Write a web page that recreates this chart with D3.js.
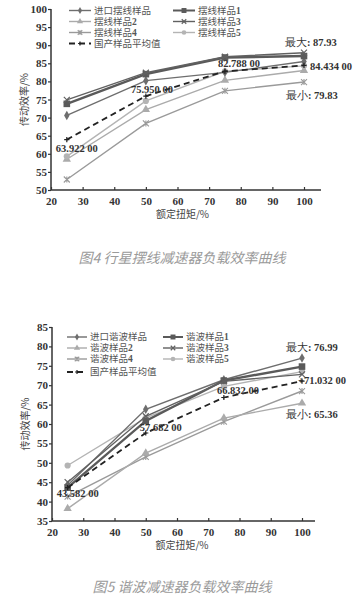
<!DOCTYPE html>
<html><head><meta charset="utf-8">
<script src="https://cdn.jsdelivr.net/npm/d3@7/dist/d3.min.js"></script>
<style>
html,body{margin:0;padding:0;background:#fff;}
svg{display:block;}
</style></head>
<body>
<svg id="chart" width="362" height="599"></svg>
<script>
// ---------- data ----------
const torque = [25, 50, 75, 100];
const xTicks = [20, 30, 40, 50, 60, 70, 80, 90, 100];

// Figure 4: cycloid reducers
const cyNames = ["进口摆线样品", "摆线样品1", "摆线样品2", "摆线样品3", "摆线样品4", "摆线样品5", "国产样品平均值"];
const cyImport = [70.6, 80.2, 82.5, 85.5];
const cyS1 = [73.8, 82.0, 86.6, 87.0];
const cyS2 = [58.5, 72.2, 80.3, 83.0];
const cyS3 = [74.9, 82.4, 86.8, 87.93];
const cyS4 = [52.9, 68.4, 77.4, 79.83];
const cyS5 = [59.3, 74.6, 82.8, 84.3];
const cyAvg = [63.922, 75.95, 82.788, 84.434];
const cyYTicks = [50, 55, 60, 65, 70, 75, 80, 85, 90, 95, 100];
const cyAvgLabels = ["63.922 00", "75.950 00", "82.788 00", "84.434 00"];
const cyMaxLabel = "最大: 87.93";
const cyMinLabel = "最小: 79.83";
const cyCaption = "图4 行星摆线减速器负载效率曲线";

// Figure 5: harmonic reducers
const hwNames = ["进口谐波样品", "谐波样品1", "谐波样品2", "谐波样品3", "谐波样品4", "谐波样品5", "国产样品平均值"];
const hwImport = [44.2, 63.8, 71.4, 76.99];
const hwS1 = [43.6, 60.8, 71.2, 74.8];
const hwS2 = [38.2, 52.5, 61.5, 65.36];
const hwS3 = [45.0, 62.0, 71.0, 72.8];
const hwS4 = [41.3, 51.5, 60.6, 68.5];
const hwS5 = [49.3, 61.6, 69.7, 73.5];
const hwAvg = [43.582, 57.682, 66.832, 71.032];
const hwYTicks = [35, 40, 45, 50, 55, 60, 65, 70, 75, 80, 85];
const hwAvgLabels = ["43.582 00", "57.682 00", "66.832 00", "+71.032 00"];
const hwMaxLabel = "最大: 76.99";
const hwMinLabel = "最小: 65.36";
const hwCaption = "图5 谐波减速器负载效率曲线";

const xTitle = "额定扭矩/%";
const yTitle = "传动效率/%";

// ---------- styles ----------
const styles = [
  {color: "#6e6e6e", width: 1.4, marker: "diamond", dash: null},
  {color: "#5a5a5a", width: 2.4, marker: "square", dash: null},
  {color: "#ababab", width: 1.4, marker: "triangle", dash: null},
  {color: "#616161", width: 1.4, marker: "cross", dash: null},
  {color: "#9a9a9a", width: 1.4, marker: "asterisk", dash: null},
  {color: "#b4b4b4", width: 1.4, marker: "circle", dash: null},
  {color: "#222222", width: 1.8, marker: "plus", dash: "6,4"}
];

const svg = d3.select("#chart");
svg.append("rect").attr("width", 362).attr("height", 599).attr("fill", "#fff");

const numFont = "'Liberation Serif','DejaVu Serif',serif";
const cjkFont = "'Noto Sans CJK SC','Noto Sans',sans-serif";
const legFont = "'Liberation Serif','Noto Sans CJK SC',serif";

function drawMarker(g, type, x, y, color, k) {
  const f = k || 1;
  const s = 3 * f;
  if (type === "diamond") {
    g.append("path").attr("d", d3.symbol(d3.symbolDiamond, 26 * f * f)()).attr("transform", `translate(${x},${y})`).attr("fill", color);
  } else if (type === "square") {
    g.append("rect").attr("x", x - 3.3 * f).attr("y", y - 3.3 * f).attr("width", 6.6 * f).attr("height", 6.6 * f).attr("fill", color);
  } else if (type === "triangle") {
    g.append("path").attr("d", d3.symbol(d3.symbolTriangle, 30 * f * f)()).attr("transform", `translate(${x},${y})`).attr("fill", color);
  } else if (type === "circle") {
    g.append("circle").attr("cx", x).attr("cy", y).attr("r", 3.1 * f).attr("fill", color);
  } else if (type === "cross") {
    g.append("path").attr("d", `M${x - s},${y - s}L${x + s},${y + s}M${x - s},${y + s}L${x + s},${y - s}`).attr("stroke", color).attr("stroke-width", 1.2);
  } else if (type === "asterisk") {
    g.append("path").attr("d", `M${x - s},${y - s}L${x + s},${y + s}M${x - s},${y + s}L${x + s},${y - s}M${x},${y - s}L${x},${y + s}`).attr("stroke", color).attr("stroke-width", 1.1);
  } else if (type === "plus") {
    g.append("path").attr("d", `M${x - 2.6 * f},${y}L${x + 2.6 * f},${y}M${x},${y - 2.6 * f}L${x},${y + 2.6 * f}`).attr("stroke", color).attr("stroke-width", 1.2);
  }
}

function drawChart(cfg) {
  const g = svg.append("g");
  const x = d3.scaleLinear().domain([20, 100]).range([cfg.x0, cfg.x1]);
  const y = d3.scaleLinear().domain(cfg.yDomain).range([cfg.yBottom, cfg.yTop]);

  // axes
  const yAxis = d3.axisLeft(y).tickValues(cfg.yTicks).tickSize(3).tickSizeOuter(0);
  const ya = g.append("g").attr("transform", `translate(${cfg.x0},0)`).call(yAxis);
  const xAxis = d3.axisBottom(x).tickValues(xTicks).tickSize(3).tickSizeOuter(0);
  const xa = g.append("g").attr("transform", `translate(0,${cfg.yBottom})`).call(xAxis);
  [ya, xa].forEach(a => {
    a.select(".domain").remove();
    a.selectAll(".tick line").attr("stroke", "#333").attr("stroke-width", 1.2);
    a.selectAll(".tick text").attr("font-family", numFont).attr("font-weight", "bold")
      .attr("font-size", "11px").attr("fill", "#333");
  });
  xa.selectAll(".tick line").attr("y2", -3);
  xa.selectAll(".tick text").attr("dy", "0.9em").attr("y", 5);
  ya.selectAll(".tick text").attr("x", -4);
  g.append("line").attr("x1", cfg.x0).attr("x2", cfg.x0).attr("y1", cfg.yTop).attr("y2", cfg.yBottom)
    .attr("stroke", "#333").attr("stroke-width", 1.5);
  g.append("line").attr("x1", cfg.x0).attr("x2", cfg.xEnd).attr("y1", cfg.yBottom).attr("y2", cfg.yBottom)
    .attr("stroke", "#333").attr("stroke-width", 1.5);

  // titles
  g.append("text").attr("x", (cfg.x0 + cfg.x1) / 2 + 5).attr("y", cfg.yBottom + 28)
    .attr("text-anchor", "middle").attr("font-family", cjkFont).attr("font-size", "10px").attr("fill", "#444").text(xTitle);
  g.append("text").attr("transform", `translate(${cfg.x0 - 23},${(cfg.yTop + cfg.yBottom) / 2}) rotate(-90)`)
    .attr("text-anchor", "middle").attr("font-family", cjkFont).attr("font-size", "10px").attr("fill", "#444").text(yTitle);

  // series lines
  const line = d3.line().x((d, i) => x(torque[i])).y(d => y(d));
  const order = [4, 2, 5, 0, 1, 3, 6];
  order.forEach(k => {
    const st = styles[k];
    g.append("path").datum(cfg.series[k]).attr("d", line).attr("fill", "none")
      .attr("stroke", st.color).attr("stroke-width", st.width)
      .attr("stroke-dasharray", st.dash);
    cfg.series[k].forEach((v, i) => drawMarker(g, st.marker, x(torque[i]), y(v), st.color));
  });

  // legend
  cfg.names.forEach((nm, k) => {
    const col = k === 6 ? 0 : k % 2;
    const row = k === 6 ? 3 : Math.floor(k / 2);
    const lx = cfg.legCols[col];
    const ly = cfg.legRows[row];
    const st = styles[k];
    g.append("line").attr("x1", lx).attr("x2", lx + cfg.legLen).attr("y1", ly).attr("y2", ly)
      .attr("stroke", st.color).attr("stroke-width", Math.min(st.width, 2)).attr("stroke-dasharray", st.dash);
    drawMarker(g, st.marker, lx + cfg.legLen / 2, ly, st.color, 0.75);
    g.append("text").attr("x", lx + cfg.legLen + 3).attr("y", ly).attr("dy", "0.35em")
      .attr("font-family", legFont).attr("font-size", "9.5px").attr("fill", "#555")
      .text(nm.replace(/\d$/, ""))
      .append("tspan").attr("font-weight", "bold")
      .text((nm.match(/\d$/) || [""])[0]);
  });

  // annotations
  const ann = g.append("g").attr("font-family", numFont).attr("font-weight", "bold")
    .attr("font-size", "10.5px").attr("fill", "#333");
  cfg.avgLabels.forEach((t, i) => {
    const p = cfg.avgLabelPos[i];
    ann.append("text").attr("x", x(torque[i]) + p[0]).attr("y", y(cfg.series[6][i]) + p[1])
      .attr("text-anchor", p[2]).attr("dy", "0.35em").text(t);
  });
  [[cfg.maxLabel, cfg.maxPos], [cfg.minLabel, cfg.minPos]].forEach(([t, p]) => {
    const tx = ann.append("text").attr("x", p[0]).attr("y", p[1]).attr("dy", "0.35em");
    tx.append("tspan").attr("font-weight", "normal").text(t.slice(0, 2));
    tx.append("tspan").text(t.slice(2));
  });

  // caption
  svg.append("text").attr("x", 182).attr("y", cfg.capY).attr("text-anchor", "middle")
    .attr("font-family", cjkFont).attr("font-style", "italic").attr("font-size", "14px")
    .attr("fill", "#9a9a9a").text(cfg.caption);
}

drawChart({
  x0: 51, x1: 304, xEnd: 321, yTop: 9, yBottom: 190, yDomain: [50, 100], yTicks: cyYTicks,
  series: [cyImport, cyS1, cyS2, cyS3, cyS4, cyS5, cyAvg], names: cyNames,
  legCols: [69, 173], legRows: [10.5, 21.5, 32.5, 43.5], legLen: 22,
  avgLabels: cyAvgLabels,
  avgLabelPos: [[10, 9, "middle"], [6, -7, "middle"], [14, -8, "middle"], [6, 1, "start"]],
  maxLabel: cyMaxLabel, maxPos: [285, 42], minLabel: cyMinLabel, minPos: [286, 95],
  capY: 263, caption: cyCaption
});

drawChart({
  x0: 52, x1: 302, xEnd: 315, yTop: 327, yBottom: 521, yDomain: [35, 85], yTicks: hwYTicks,
  series: [hwImport, hwS1, hwS2, hwS3, hwS4, hwS5, hwAvg], names: hwNames,
  legCols: [67, 163], legRows: [337, 348, 359, 372], legLen: 20,
  avgLabels: hwAvgLabels,
  avgLabelPos: [[10, 6, "middle"], [15, -6, "middle"], [14, -7, "middle"], [-4, -1, "start"]],
  maxLabel: hwMaxLabel, maxPos: [286, 347], minLabel: hwMinLabel, minPos: [286, 414],
  capY: 592, caption: hwCaption
});
</script>
</body></html>
